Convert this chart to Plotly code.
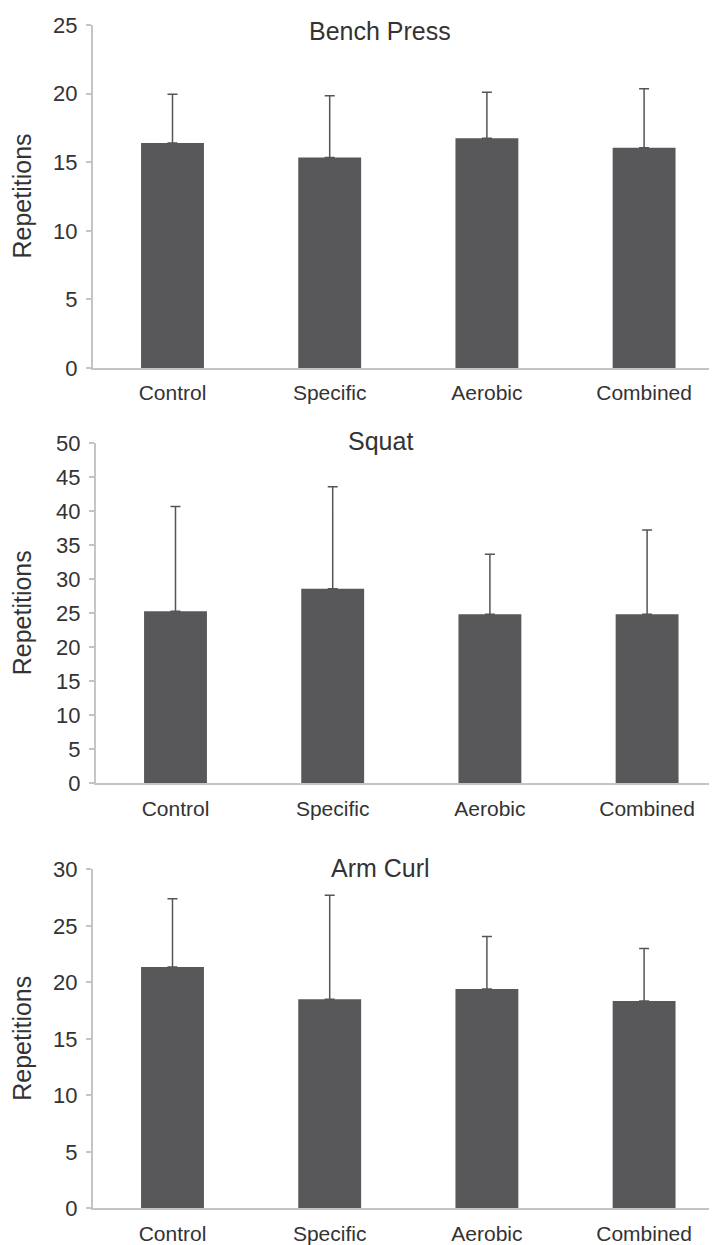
import plotly.graph_objects as go

W, H = 717, 1245

categories = ["Control", "Specific", "Aerobic", "Combined"]

bench_mean = [16.4, 15.35, 16.75, 16.05]
bench_sd = [3.55, 4.5, 3.35, 4.3]

squat_mean = [25.3, 28.6, 24.85, 24.85]
squat_sd = [15.4, 15.0, 8.85, 12.4]

curl_mean = [21.35, 18.5, 19.4, 18.35]
curl_sd = [6.05, 9.2, 4.65, 4.65]

titles = ["Bench Press", "Squat", "Arm Curl"]
y_max = [25, 50, 30]

means = [bench_mean, squat_mean, curl_mean]
sds = [bench_sd, squat_sd, curl_sd]

# the page body adds an 8px offset; map target picture pixels to figure pixels
OX, OY = 8.0, 8.0


def fx(px):
    return px - OX


def fy(py):
    return py - OY


PX_PER_CAT = 157.2
# target pixel layout of each panel
panels = [
    dict(left=93, top=25, bottom=368, c0=172.5, title_y=31),
    dict(left=96, top=443.3, bottom=783.3, c0=175.5, title_y=441),
    dict(left=93, top=869.3, bottom=1208.3, c0=172.5, title_y=868),
]

BAR = "#58585a"
AXIS = "#c4c4c4"
TXT = "#333333"
FONT = "Liberation Sans, Arial, sans-serif"

fig = go.Figure()
layout = dict(
    width=W, height=H,
    margin=dict(l=0, r=0, t=0, b=0, autoexpand=False),
    paper_bgcolor="white", plot_bgcolor="white",
    showlegend=False,
    font=dict(family=FONT, color=TXT, size=21),
)
annotations = []
for i, p in enumerate(panels):
    n = "" if i == 0 else str(i + 1)
    xa, ya = "x" + n, "y" + n
    fig.add_trace(go.Bar(
        x=categories, y=means[i],
        xaxis=xa, yaxis=ya,
        width=0.4,
        marker=dict(color=BAR, line=dict(width=0)),
        error_y=dict(type="data", symmetric=False, array=sds[i],
                     arrayminus=[0] * len(sds[i]),
                     color="#555555", thickness=1.5, width=5),
        hoverinfo="skip",
    ))
    left_f = fx(p["left"])
    r0 = (p["left"] - p["c0"]) / PX_PER_CAT
    r1 = r0 + (W - left_f) / PX_PER_CAT
    layout["xaxis" + n] = dict(
        domain=[left_f / W, 1.0],
        anchor=ya, range=[r0, r1],
        showline=True, linecolor=AXIS, linewidth=2,
        ticks="", showgrid=False, zeroline=False,
        tickfont=dict(size=21, color=TXT, family=FONT),
        ticklabelstandoff=5,
    )
    layout["yaxis" + n] = dict(
        domain=[1 - fy(p["bottom"]) / H, 1 - fy(p["top"]) / H],
        anchor=xa, range=[0, y_max[i]], dtick=5,
        showline=True, linecolor=AXIS, linewidth=2,
        ticks="outside", ticklen=5, tickcolor=AXIS, tickwidth=2,
        showgrid=False, zeroline=False,
        tickfont=dict(size=22, color=TXT, family=FONT),
        ticklabelstandoff=4,
    )
    annotations.append(dict(
        text=titles[i], x=fx(380) / W, y=1 - fy(p["title_y"]) / H,
        xref="paper", yref="paper", xanchor="center", yanchor="middle",
        showarrow=False, font=dict(size=25, color=TXT, family=FONT),
    ))
    annotations.append(dict(
        text="Repetitions", x=fx(22) / W,
        y=1 - fy((p["top"] + p["bottom"]) / 2) / H,
        xref="paper", yref="paper", xanchor="center", yanchor="middle",
        textangle=-90, showarrow=False,
        font=dict(size=25, color=TXT, family=FONT),
    ))

layout["annotations"] = annotations
fig.update_layout(**layout)
fig.write_html("out.html")
